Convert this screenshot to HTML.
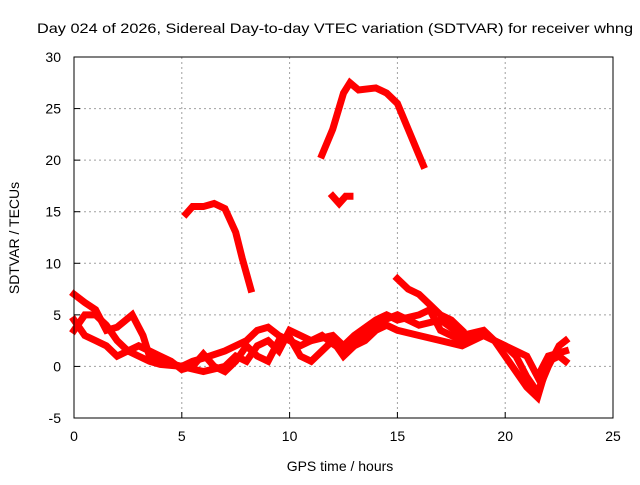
<!DOCTYPE html>
<html><head><meta charset="utf-8"><style>
html,body{margin:0;padding:0;background:#fff;}
svg text{font-family:"Liberation Sans",sans-serif;font-size:14px;fill:#000;}
</style></head><body>
<svg id="chart" width="640" height="480" xmlns="http://www.w3.org/2000/svg">
<text x="37" y="33" textLength="596" lengthAdjust="spacingAndGlyphs">Day 024 of 2026, Sidereal Day-to-day VTEC variation (SDTVAR) for receiver whng</text>
<g id="grid"></g>
<g id="series"></g>
<rect x="74" y="57" width="539" height="361" fill="none" stroke="#000" stroke-width="1"/>
<g id="ticks"></g>
<text x="340" y="471" text-anchor="middle">GPS time / hours</text>
<text transform="translate(19,238) rotate(-90)" text-anchor="middle">SDTVAR / TECUs</text>
</svg>
<script>
const xTicks=[0,5,10,15,20,25];
const yTicks=[-5,0,5,10,15,20,25,30];
const seriesA=[[0,7],[0.5,6.2],[1,5.5],[1.5,3.5],[2,3.8],[2.7,5],[3.2,3],[3.5,1],[4,0.5],[5,0],[5.5,0.5],[6,0.8],[7,1.5],[8,2.5],[8.5,3.5],[9,3.8],[9.5,3],[10,2.5],[10.5,2],[11,2.5],[11.5,3],[12,2.2],[12.5,1.5],[13,2.5],[13.5,3],[14,4.2],[15,5],[15.5,4.5],[16,4],[17,4.5],[18,3],[19,3.5],[19.5,2.5],[20,2],[20.5,1],[21,-1],[21.5,-2.5],[22,0],[22.5,2],[22.8,2.5]];
const seriesB=[[0,4.5],[0.5,3],[1,2.5],[1.5,2],[2,1],[2.5,1.5],[3,2],[3.5,1.5],[4,1],[4.5,0.5],[5,-0.3],[5.5,0],[6,1.2],[6.5,0],[7,-0.5],[7.5,0.5],[8,2],[8.5,1],[9,0.5],[9.5,2.5],[10,2.8],[10.5,1],[11,0.5],[11.5,1.5],[12,2.5],[12.5,1],[13,2],[13.5,2.5],[14,3.5],[14.5,4],[15,3.5],[16,3],[17,2.5],[18,2],[19,3],[19.5,2.5],[20,1],[21,-2],[21.5,-3],[22,0.5],[22.5,1],[22.8,0.5]];
const seriesC=[[0,3.5],[0.5,5],[1,5],[1.5,4],[2,2.5],[2.5,1.5],[3,1],[3.5,0.5],[4,0.2],[5,0],[6,-0.5],[7,0],[7.5,1],[8,0.5],[8.5,2],[9,2.5],[9.5,1.5],[10,3.5],[11,2.5],[12,3],[12.5,2],[13,3],[14,4.5],[14.5,5],[15,4.5],[16,5],[16.5,5.5],[17,3.5],[18,2.5],[19,3],[20,2],[21,1],[21.5,-1],[22,1],[22.8,1.5]];
const seriesD=[[15,8.5],[15.5,7.5],[16,7],[16.5,6],[17,5],[17.5,4.5],[18,3.5]];
const seriesE=[[5.2,14.8],[5.5,15.5],[6,15.5],[6.5,15.8],[7,15.3],[7.5,13],[7.8,10.5],[8,9],[8.2,7.5]];
const seriesF=[[11.5,20.5],[12,23],[12.5,26.5],[12.8,27.5],[13.2,26.8],[14,27],[14.5,26.5],[15,25.5],[15.5,23],[16,20.5],[16.2,19.5]];
const seriesG=[[12,16.5],[12.3,15.8],[12.6,16.5],[12.8,16.5]];
const allSeries=[seriesA,seriesB,seriesC,seriesD,seriesE,seriesF,seriesG];
const NS="http://www.w3.org/2000/svg";
const X0=74,X1=613,Y0=418,Y1=57;
function xs(v){return X0+(v-0)/(25-0)*(X1-X0);}
function ys(v){return Y0-(v+5)/(30+5)*(Y0-Y1);}
const grid=document.getElementById('grid'),ticks=document.getElementById('ticks'),ser=document.getElementById('series');
function mk(tag,attrs,parent){const e=document.createElementNS(NS,tag);for(const k in attrs)e.setAttribute(k,attrs[k]);parent.appendChild(e);return e;}
xTicks.forEach(t=>{
  const x=xs(t);
  if(t>0&&t<25){const g=mk('line',{x1:x,x2:x,y1:Y1,y2:Y0,stroke:'#a0a0a0','stroke-dasharray':'2,3'},grid);
  
  }
  const tl=mk('line',{x1:x,x2:x,y1:Y0,y2:Y0-6,stroke:'#000'},ticks);
  
  
  const tx=mk('text',{x:x,y:Y0+23,'text-anchor':'middle'},ticks);tx.textContent=t;
  
  
});
yTicks.forEach(t=>{
  const y=ys(t);
  if(t>-5&&t<30){const g=mk('line',{x1:X0,x2:X1,y1:y,y2:y,stroke:'#a0a0a0','stroke-dasharray':'2,3'},grid);
  
  }
  const tl=mk('line',{x1:X0,x2:X0+6,y1:y,y2:y,stroke:'#000'},ticks);
  
  
  const tx=mk('text',{x:X0-13,y:y+5,'text-anchor':'end'},ticks);tx.textContent=t;
  
  
});
allSeries.forEach((s,i)=>{
  const p=mk('polyline',{points:s.map(d=>xs(d[0])+','+ys(d[1])).join(' '),fill:'none',stroke:'#ff0000','stroke-width':7,'stroke-linejoin':'miter','stroke-linecap':'square'},ser);
  
  
});
</script>
</body></html>
